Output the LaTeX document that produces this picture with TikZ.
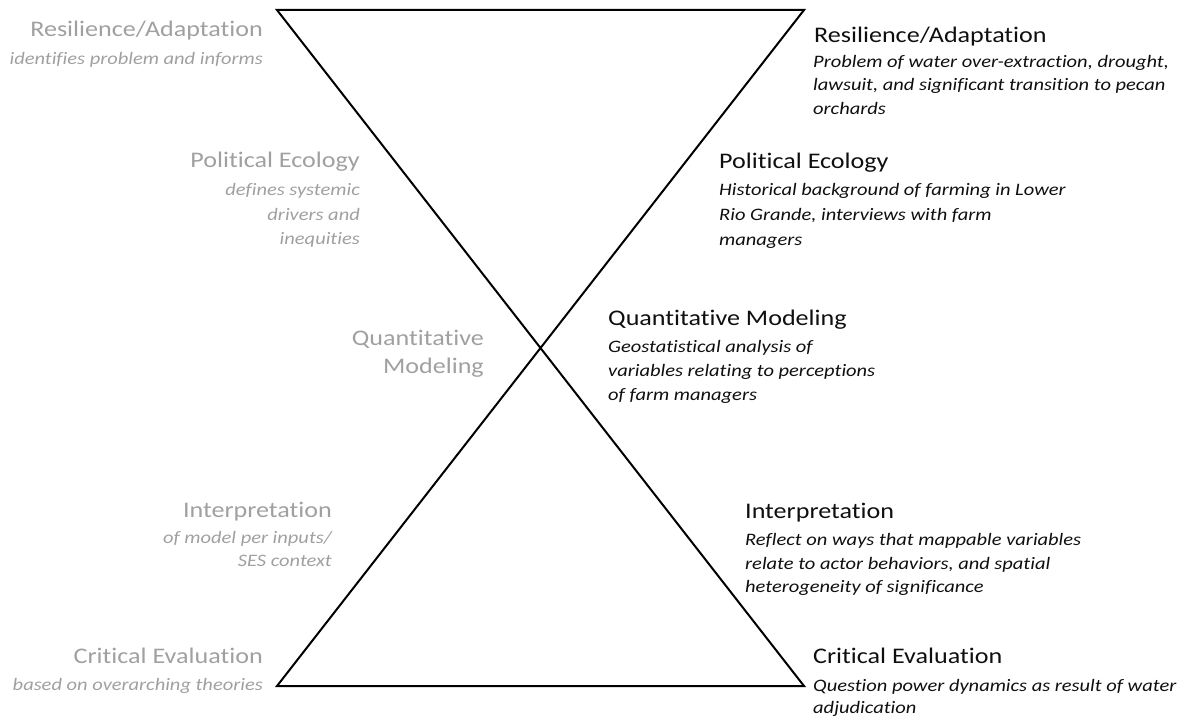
\documentclass[tikz,border=0pt]{standalone}
\usepackage{fontspec}
\setmainfont{Carlito}[FakeStretch=1.17,Ligatures=NoCommon]
\definecolor{leftgray}{RGB}{160,160,160}
\definecolor{righttext}{RGB}{15,15,15}
\tikzset{
  hg/.style={draw=black, line width=2pt},
  lh/.style={anchor=base east, inner sep=0pt, text=leftgray, font=\fontsize{22.3}{26}\selectfont},
  ld/.style={anchor=base east, inner sep=0pt, text=leftgray, font=\fontsize{17.5}{21}\selectfont\itshape},
  rh/.style={anchor=base west, inner sep=0pt, text=righttext, font=\fontsize{22.3}{26}\selectfont},
  rd/.style={anchor=base west, inner sep=0pt, text=righttext, font=\fontsize{17.5}{21}\selectfont\itshape},
}
\begin{document}
\begin{tikzpicture}[x=1pt,y=-1pt]
\useasboundingbox (0,0) rectangle (1185,717);
\coordinate (TL) at (277,10);
\coordinate (TR) at (804,10);
\coordinate (BL) at (277,686);
\coordinate (BR) at (804,686);
\draw[hg] (TL) -- (TR) -- (BL) -- (BR) -- cycle;

% left side
\node[lh] (l1h) at (263,37) {Resilience/Adaptation};
\node[ld] (l1a) at (263,65) {identifies problem and informs};
\node[lh] (l2h) at (360,167) {Political Ecology};
\node[ld] (l2a) at (360,195) {defines systemic};
\node[ld] (l2b) at (360,220) {drivers and};
\node[ld] (l2c) at (360,244) {inequities};
\node[lh] (l3h) at (484,345) {Quantitative};
\node[lh] (l3i) at (484,373) {Modeling};
\node[lh] (l4h) at (332,517) {Interpretation};
\node[ld] (l4a) at (332,543) {of model per inputs/};
\node[ld] (l4b) at (332,566) {SES context};
\node[lh] (l5h) at (263,663) {Critical Evaluation};
\node[ld] (l5a) at (263,690) {based on overarching theories};

% right side
\node[rh] (r1h) at (814,42) {Resilience/Adaptation};
\node[rd] (r1a) at (813,67) {Problem of water over-extraction, drought,};
\node[rd] (r1b) at (813,90) {lawsuit, and significant transition to pecan};
\node[rd] (r1c) at (813,114) {orchards};
\node[rh] (r2h) at (719,168) {Political Ecology};
\node[rd] (r2a) at (719,195) {Historical background of farming in Lower};
\node[rd] (r2b) at (719,220) {Rio Grande, interviews with farm};
\node[rd] (r2c) at (719,245) {managers};
\node[rh] (r3h) at (608,325) {Quantitative Modeling};
\node[rd] (r3a) at (608,352) {Geostatistical analysis of};
\node[rd] (r3b) at (608,376) {variables relating to perceptions};
\node[rd] (r3c) at (608,400) {of farm managers};
\node[rh] (r4h) at (745,518) {Interpretation};
\node[rd] (r4a) at (745,545) {Reflect on ways that mappable variables};
\node[rd] (r4b) at (745,569) {relate to actor behaviors, and spatial};
\node[rd] (r4c) at (745,592) {heterogeneity of significance};
\node[rh] (r5h) at (813,663) {Critical Evaluation};
\node[rd] (r5a) at (813,691) {Question power dynamics as result of water};
\node[rd] (r5b) at (813,713) {adjudication};
\end{tikzpicture}
\end{document}
